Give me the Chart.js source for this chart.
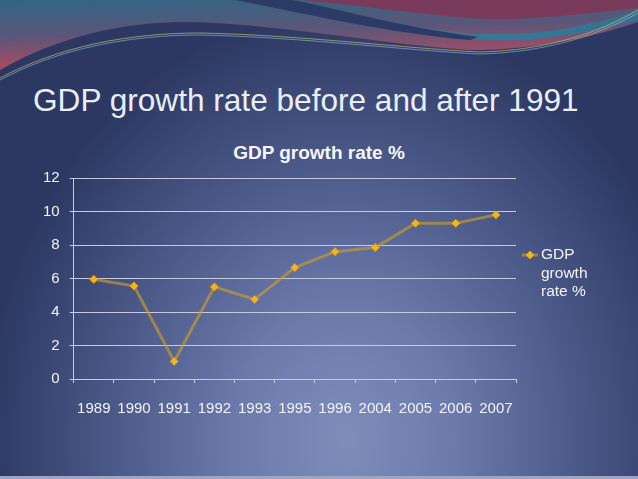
<!DOCTYPE html>
<html>
<head>
<meta charset="utf-8">
<script src="https://cdn.jsdelivr.net/npm/chart.js@4.4.1/dist/chart.umd.min.js"></script>
<style>
  html, body { margin: 0; padding: 0; }
  body {
    width: 638px; height: 479px; overflow: hidden; position: relative;
    font-family: "Liberation Sans", Arial, sans-serif;
    background: radial-gradient(ellipse 360px 430px at 345px 440px, #7f8dbb 0%, #6c7bac 30%, #4b5989 65%, #2c3861 100%);
  }
  #deco { position: absolute; left: 0; top: 0; }
  #bottomBar { position: absolute; left: 0; bottom: 0; width: 638px; height: 3px; background: #9ba6c6; }
  #slideTitle {
    position: absolute; left: 33px; top: 82px; font-size: 31.6px; line-height: 36px;
    color: #e9eef8; white-space: nowrap;
  }
  #chartTitle {
    position: absolute; left: 0; width: 638px; text-align: center;
    top: 142px; font-size: 19px; font-weight: bold; color: #f4f6fb; line-height: 22px;
  }
  #wrap { position: absolute; left: 0; top: 0; width: 638px; height: 479px; }
</style>
</head>
<body>
<svg id="deco" width="638" height="90" viewBox="0 0 638 90">
  <defs>
    <linearGradient id="hdr" x1="0" y1="0" x2="0.25" y2="1">
      <stop offset="0" stop-color="#2f6683"/>
      <stop offset="0.5" stop-color="#5b5679"/>
      <stop offset="1" stop-color="#b64b60"/>
    </linearGradient>
    <linearGradient id="teal" x1="0" y1="0" x2="1" y2="0">
      <stop offset="0" stop-color="#2f7c98" stop-opacity="0"/>
      <stop offset="0.5" stop-color="#2f7c98"/>
      <stop offset="1" stop-color="#3a6f8e"/>
    </linearGradient>
  </defs>
  <path d="M0,0 L638,0 L638,22 C600,35 540,50 470,50 C380,44 280,24 190,22 C130,21 60,35 0,70 Z" fill="url(#hdr)"/>
  <path d="M300,0 L638,0 L638,8 C580,14 520,22 470,18 C400,12 350,4 300,0 Z" fill="#7a3a5c"/>
  <path d="M360,14 C420,30 470,36 520,34 C570,30 610,20 638,10 L638,20 C600,30 560,40 500,40 C450,40 400,28 360,14 Z" fill="url(#teal)"/>
  <path d="M235,0 C300,12 380,32 470,40 L478,37 C400,27 335,8 292,0 Z" fill="#2c3a66"/>
  <path d="M0,78 C60,46 130,33 200,33 C300,35 400,48 480,52 C550,50 600,32 638,10" fill="none" stroke="#d9c56a" stroke-width="0.8" opacity="0.8"/>
  <path d="M0,80 C60,48 130,35 200,35 C300,37 400,50 480,54 C550,52 600,34 638,13" fill="none" stroke="#8ed0e8" stroke-width="0.8" opacity="0.7"/>
</svg>
<div id="bottomBar"></div>
<div id="slideTitle"></div>
<div id="chartTitle"></div>
<div id="wrap"><canvas id="gdpChart"></canvas></div>
<script>
// values
var slideTitle = "GDP growth rate before and after 1991";
var seriesName = "GDP growth rate %";
var years = ["1989", "1990", "1991", "1992", "1993", "1995", "1996", "2004", "2005", "2006", "2007"];
var gdpGrowth = [5.95, 5.55, 1.05, 5.5, 4.75, 6.65, 7.6, 7.85, 9.3, 9.3, 9.8];
var yMin = 0, yMax = 12, yStep = 2;

var textColor = "#f2f4fa";
var gridColor = "#c5cbdd";
var fontFamily = "'Liberation Sans', Arial, sans-serif";

document.getElementById("slideTitle").textContent = slideTitle;
document.getElementById("chartTitle").textContent = seriesName;

// legend on the right, words wrapped like the original
var sideLegend = {
    id: "sideLegend",
    afterDraw: function (chart) {
        var ctx = chart.ctx;
        var ds = chart.data.datasets[0];
        var area = chart.chartArea;
        var x0 = area.right + 6;
        var lineH = 18.5;
        var mid = (area.top + area.bottom) / 2 - 5;

        ctx.save();
        ctx.font = "15.5px " + fontFamily;
        var words = ds.label.split(" ");
        var lines = [];
        var cur = "";
        for (var i = 0; i < words.length; i++) {
            var test = cur ? cur + " " + words[i] : words[i];
            if (cur && ctx.measureText(test).width > 58) {
                lines.push(cur);
                cur = words[i];
            } else {
                cur = test;
            }
        }
        lines.push(cur);

        var y1 = mid - (lines.length - 1) / 2 * lineH;
        // sample line + marker
        ctx.strokeStyle = ds.borderColor;
        ctx.lineWidth = ds.borderWidth;
        ctx.beginPath();
        ctx.moveTo(x0, y1);
        ctx.lineTo(x0 + 16, y1);
        ctx.stroke();
        ctx.fillStyle = ds.pointBackgroundColor;
        ctx.strokeStyle = ds.pointBorderColor;
        ctx.lineWidth = 1;
        Chart.helpers.drawPoint(ctx, { pointStyle: ds.pointStyle, radius: ds.pointRadius, rotation: 0, borderWidth: 1 }, x0 + 8, y1);

        ctx.fillStyle = textColor;
        ctx.textBaseline = "middle";
        ctx.textAlign = "left";
        for (var j = 0; j < lines.length; j++) {
            ctx.fillText(lines[j], x0 + 19, y1 + j * lineH);
        }
        ctx.restore();
    }
};

var ctx = document.getElementById("gdpChart");
var gdpChart = new Chart(ctx, {
    type: "line",
    data: {
        labels: years,
        datasets: [{
            label: seriesName,
            data: gdpGrowth,
            borderColor: "rgba(205,158,35,0.62)",
            borderWidth: 3,
            pointStyle: "rectRot",
            pointRadius: 4,
            pointBackgroundColor: "#f4b41c",
            pointBorderColor: "#e0a010",
            pointBorderWidth: 1,
            tension: 0,
            fill: false
        }]
    },
    options: {
        responsive: true,
        maintainAspectRatio: false,
        animation: false,
        layout: { padding: { left: 33, right: 122, top: 178, bottom: 44 } },
        plugins: {
            legend: { display: false },
            tooltip: { enabled: false },
            title: { display: false }
        },
        scales: {
            x: {
                offset: true,
                grid: { drawOnChartArea: false, drawTicks: true, tickLength: 4, color: gridColor, offset: true },
                border: { color: gridColor, width: 1 },
                ticks: { color: textColor, font: { family: fontFamily, size: 15 }, padding: 17, maxRotation: 0, autoSkip: false }
            },
            y: {
                min: yMin,
                max: yMax,
                grid: { color: gridColor, lineWidth: 1, tickLength: 4 },
                border: { color: gridColor, width: 1 },
                ticks: { stepSize: yStep, color: textColor, font: { family: fontFamily, size: 15 }, padding: 10 }
            }
        }
    },
    plugins: [sideLegend]
});
</script>
</body>
</html>
